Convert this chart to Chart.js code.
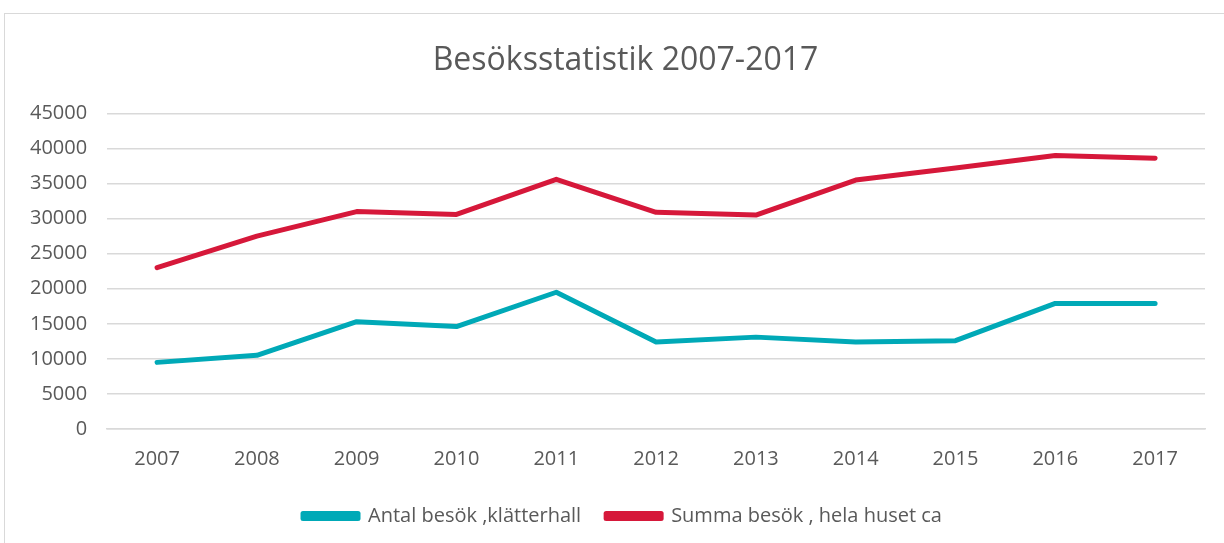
<!DOCTYPE html>
<html>
<head>
<meta charset="utf-8">
<script src="https://cdn.jsdelivr.net/npm/chart.js@4"></script>
<style>
  html, body { margin: 0; padding: 0; background: #fff; overflow: hidden; }
  #frame { position: absolute; left: 4px; top: 13px; width: 1240px; height: 560px; border: 1px solid #d9d9d9; }
  #wrap { position: absolute; left: 0; top: 0; width: 1224px; height: 543px; }
</style>
</head>
<body>
<div id="frame"></div>
<div id="wrap"><canvas id="visitChart" width="1224" height="543"></canvas></div>
<script>
// Data
const years = ['2007', '2008', '2009', '2010', '2011', '2012', '2013', '2014', '2015', '2016', '2017'];
const klatterhall = [9500, 10500, 15300, 14600, 19500, 12400, 13100, 12400, 12600, 17900, 17900];
const helaHuset = [23000, 27500, 31000, 30600, 35600, 30900, 30500, 35500, 37200, 39000, 38600];
const yTicks = [0, 5000, 10000, 15000, 20000, 25000, 30000, 35000, 40000, 45000];

const textColor = '#595959';
const gridColor = '#d9d9d9';
const fontFamily = "'Open Sans', 'Liberation Sans', sans-serif";

// title and legend in the original are centred on the whole frame, which runs past the right edge
const shiftToFrame = {
  id: 'shiftToFrame',
  afterLayout(chart) {
    if (chart.titleBlock) chart.titleBlock.right += 36;
    if (chart.legend) chart.legend.right += 30;
  }
};

const ctx = document.getElementById('visitChart').getContext('2d');

new Chart(ctx, {
  type: 'line',
  data: {
    labels: years,
    datasets: [
      {
        label: 'Antal besök ,klätterhall',
        data: klatterhall,
        borderColor: '#00a9b7',
        backgroundColor: '#00a9b7',
        borderWidth: 5,
        pointRadius: 0,
        borderCapStyle: 'round',
        borderJoinStyle: 'round',
        tension: 0
      },
      {
        label: 'Summa besök , hela huset ca',
        data: helaHuset,
        borderColor: '#d6183a',
        backgroundColor: '#d6183a',
        borderWidth: 5,
        pointRadius: 0,
        borderCapStyle: 'round',
        borderJoinStyle: 'round',
        tension: 0
      }
    ]
  },
  options: {
    responsive: false,
    animation: false,
    layout: { padding: { left: 10, right: 19, top: 42, bottom: 7 } },
    scales: {
      x: {
        offset: true,
        grid: { display: false },
        border: { display: true, color: gridColor, width: 1.5 },
        ticks: { color: textColor, font: { family: fontFamily, size: 20 }, padding: 10 }
      },
      y: {
        min: 0,
        max: 45000,
        afterBuildTicks: axis => { axis.ticks = yTicks.map(v => ({ value: v })); },
        grid: { color: gridColor, lineWidth: 1.5, drawTicks: false },
        border: { display: false },
        ticks: {
          color: textColor,
          font: { family: fontFamily, size: 20 },
          padding: 20,
          callback: v => String(v)
        }
      }
    },
    plugins: {
      title: {
        display: true,
        text: 'Besöksstatistik 2007-2017',
        color: textColor,
        font: { family: fontFamily, size: 32, weight: 'normal' },
        padding: { top: 0, bottom: 33 }
      },
      legend: {
        position: 'bottom',
        labels: {
          color: textColor,
          font: { family: fontFamily, size: 20 },
          boxWidth: 55,
          boxHeight: 5,
          padding: 25
        }
      },
      tooltip: { enabled: false }
    }
  },
  plugins: [shiftToFrame]
});
</script>
</body>
</html>
